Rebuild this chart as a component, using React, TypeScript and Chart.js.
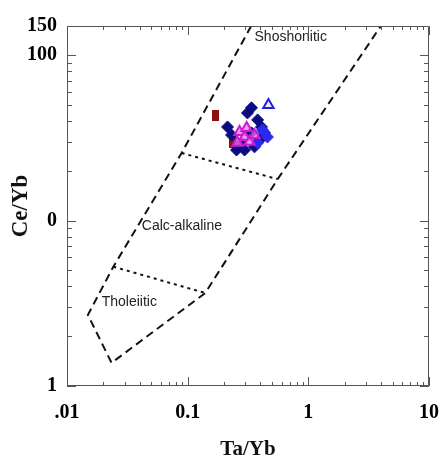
import React, { useEffect, useRef } from 'react';
import { Chart, registerables } from 'chart.js';
Chart.register(...registerables);

// ---- axis ticks ----
const xMajorTicks = [0.01, 0.1, 1, 10];
const xTickLabels = ['.01', '0.1', '1', '10'];
const xMinorTicks = [0.02, 0.03, 0.04, 0.05, 0.06, 0.07, 0.08, 0.09, 0.2, 0.3, 0.4, 0.5, 0.6, 0.7, 0.8, 0.9, 2, 3, 4, 5, 6, 7, 8, 9];
const yMajorTicks = [1, 10, 100, 150];
const yTickLabels = ['1', '0', '100', '150'];
const yMinorTicks = [2, 3, 4, 5, 6, 7, 8, 9, 20, 30, 40, 50, 60, 70, 80, 90];

// ---- field boundaries (Ta/Yb, Ce/Yb) ----
const outerBoundaryX = [0.336, 0.0891, 0.0242, 0.0149, 0.0234, 0.14, 0.557, 3.99];
const outerBoundaryY = [150, 25.6, 5.26, 2.69, 1.38, 3.65, 17.8, 150];
const upperDividerX = [0.0891, 0.557];
const upperDividerY = [25.6, 17.8];
const lowerDividerX = [0.0242, 0.14];
const lowerDividerY = [5.26, 3.65];

// ---- region labels ----
const regionNames = ['Shoshonitic', 'Calc-alkaline', 'Tholeiitic'];
const regionX = [0.358, 0.0417, 0.0194];
const regionY = [128.8, 9.28, 3.22];

// ---- samples ----
const navyX = [0.214, 0.313, 0.38, 0.433, 0.254, 0.279, 0.338, 0.358, 0.409, 0.338, 0.296, 0.231, 0.394];
const navyY = [36.8, 44.7, 40.6, 33.9, 26.7, 29.5, 33.9, 27.9, 36.8, 48.0, 26.7, 32.9, 30.7];
const blueX = [0.458, 0.38, 0.417];
const blueY = [32.0, 29.5, 35.3];
const magentaX = [0.269, 0.296, 0.325, 0.259, 0.358, 0.308];
const magentaY = [34.3, 32.0, 29.9, 29.5, 32.9, 36.3];
const redX = [0.17, 0.236];
const redY = [42.9, 29.5];
const openTriX = [0.467];
const openTriY = [50.0];

const toPts = (xs: number[], ys: number[]) => xs.map((x, i) => ({ x, y: ys[i] }));

const tickFont = { family: 'Liberation Serif', weight: 'bold' as const, size: 20 };

const frameAndTicks = {
  id: 'frameAndTicks',
  afterDraw(chart: any) {
    const { ctx, chartArea: a, scales } = chart;
    ctx.save();
    ctx.setLineDash([]);
    ctx.strokeStyle = '#555';
    ctx.lineWidth = 1;
    ctx.beginPath();
    ctx.rect(a.left + 0.5, a.top + 0.5, a.right - a.left - 1, a.bottom - a.top - 1);
    const xs = [...xMajorTicks.map((v) => [v, 9]), ...xMinorTicks.map((v) => [v, 4])];
    for (const [v, len] of xs) {
      const px = Math.round(scales.x.getPixelForValue(v)) + 0.5;
      ctx.moveTo(px, a.bottom);
      ctx.lineTo(px, a.bottom - len);
      ctx.moveTo(px, a.top);
      ctx.lineTo(px, a.top + len);
    }
    const ys = [...[1, 10, 100].map((v) => [v, 9]), ...yMinorTicks.map((v) => [v, 5])];
    for (const [v, len] of ys) {
      const py = Math.round(scales.y.getPixelForValue(v)) + 0.5;
      ctx.moveTo(a.left, py);
      ctx.lineTo(a.left + len, py);
      ctx.moveTo(a.right, py);
      ctx.lineTo(a.right - len, py);
    }
    ctx.stroke();
    ctx.restore();
  },
  beforeDatasetsDraw(chart: any) {
    const { ctx, scales } = chart;
    ctx.save();
    ctx.fillStyle = '#222';
    ctx.font = '14px "Liberation Sans", Arial, sans-serif';
    ctx.textBaseline = 'middle';
    ctx.textAlign = 'left';
    regionNames.forEach((name, i) => {
      ctx.fillText(name, scales.x.getPixelForValue(regionX[i]), scales.y.getPixelForValue(regionY[i]));
    });
    ctx.restore();
  },
};

export default function App() {
  const ref = useRef<HTMLCanvasElement>(null);
  useEffect(() => {
    if (!ref.current) return;
    const redMarker = document.createElement('canvas');
    redMarker.width = 7;
    redMarker.height = 11;
    const rc = redMarker.getContext('2d')!;
    rc.fillStyle = '#8a1212';
    rc.fillRect(0, 0, 7, 11);

    const lineDs = (xs: number[], ys: number[], dash: number[]) => ({
      type: 'scatter' as const,
      data: toPts(xs, ys),
      showLine: true,
      borderColor: '#111',
      borderWidth: 2,
      borderDash: dash,
      pointRadius: 0,
      tension: 0,
      fill: false,
      order: 5,
    });

    const chart = new Chart(ref.current, {
      type: 'scatter',
      data: {
        datasets: [
          lineDs(outerBoundaryX, outerBoundaryY, [8, 5]),
          lineDs(upperDividerX, upperDividerY, [3, 4]),
          lineDs(lowerDividerX, lowerDividerY, [3, 4]),
          {
            data: toPts(redX, redY),
            pointStyle: redMarker as any,
            pointRadius: 5,
            order: 4,
          },
          {
            data: toPts(navyX, navyY),
            pointStyle: 'rectRot',
            pointRadius: 6,
            backgroundColor: '#0c0c82',
            borderColor: '#0c0c82',
            borderWidth: 1,
            order: 3,
          },
          {
            data: toPts(blueX, blueY),
            pointStyle: 'rectRot',
            pointRadius: 6,
            backgroundColor: '#2a2af0',
            borderColor: '#2a2af0',
            borderWidth: 1,
            order: 2,
          },
          {
            data: toPts(magentaX, magentaY),
            pointStyle: 'triangle',
            pointRadius: 6,
            backgroundColor: 'rgba(235,120,235,0.75)',
            borderColor: '#d018d0',
            borderWidth: 2,
            order: 1,
          },
          {
            data: toPts(openTriX, openTriY),
            pointStyle: 'triangle',
            pointRadius: 6,
            backgroundColor: '#e8e8ff',
            borderColor: '#2020e0',
            borderWidth: 2,
            order: 1,
          },
        ],
      },
      options: {
        responsive: false,
        animation: false,
        events: [],
        layout: { padding: { top: 26, right: 11, left: 0, bottom: 0 } },
        plugins: { legend: { display: false }, tooltip: { enabled: false } },
        scales: {
          x: {
            type: 'logarithmic',
            position: 'bottom',
            min: 0.01,
            max: 10,
            afterBuildTicks: (s: any) => {
              s.ticks = xMajorTicks.map((v) => ({ value: v, major: true }));
            },
            afterFit: (s: any) => {
              s.height = 77;
              s.paddingLeft = 0;
              s.paddingRight = 0;
            },
            grid: { display: false, drawTicks: false },
            border: { display: false },
            ticks: {
              autoSkip: false,
              maxRotation: 0,
              padding: 15,
              color: '#000',
              font: tickFont,
              callback: (v: any) => {
                const i = xMajorTicks.indexOf(Number(v));
                return i >= 0 ? xTickLabels[i] : '';
              },
            },
            title: {
              display: true,
              text: 'Ta/Yb',
              color: '#111',
              font: { family: 'Liberation Serif', weight: 'bold', size: 21, lineHeight: 1.2 },
              padding: { top: 0, bottom: 1 },
            },
          },
          y: {
            type: 'logarithmic',
            position: 'left',
            min: 1,
            max: 150,
            afterBuildTicks: (s: any) => {
              s.ticks = yMajorTicks.map((v) => ({ value: v, major: true }));
            },
            afterFit: (s: any) => {
              s.width = 67;
              s.paddingTop = 0;
              s.paddingBottom = 0;
            },
            grid: { display: false, drawTicks: false },
            border: { display: false },
            ticks: {
              autoSkip: false,
              padding: 10,
              color: '#000',
              font: tickFont,
              callback: (v: any) => {
                const i = yMajorTicks.indexOf(Number(v));
                return i >= 0 ? yTickLabels[i] : '';
              },
            },
            title: {
              display: true,
              text: 'Ce/Yb',
              color: '#111',
              font: { family: 'Liberation Serif', weight: 'bold', size: 23, lineHeight: 1.2 },
              padding: { top: 7, bottom: 0 },
            },
          },
        },
      },
      plugins: [frameAndTicks],
    });
    return () => chart.destroy();
  }, []);
  return (
    <div style={{ position: 'fixed', left: 0, top: 0, width: 440, height: 463, background: '#fff' }}>
      <canvas ref={ref} width={440} height={463} />
    </div>
  );
}
